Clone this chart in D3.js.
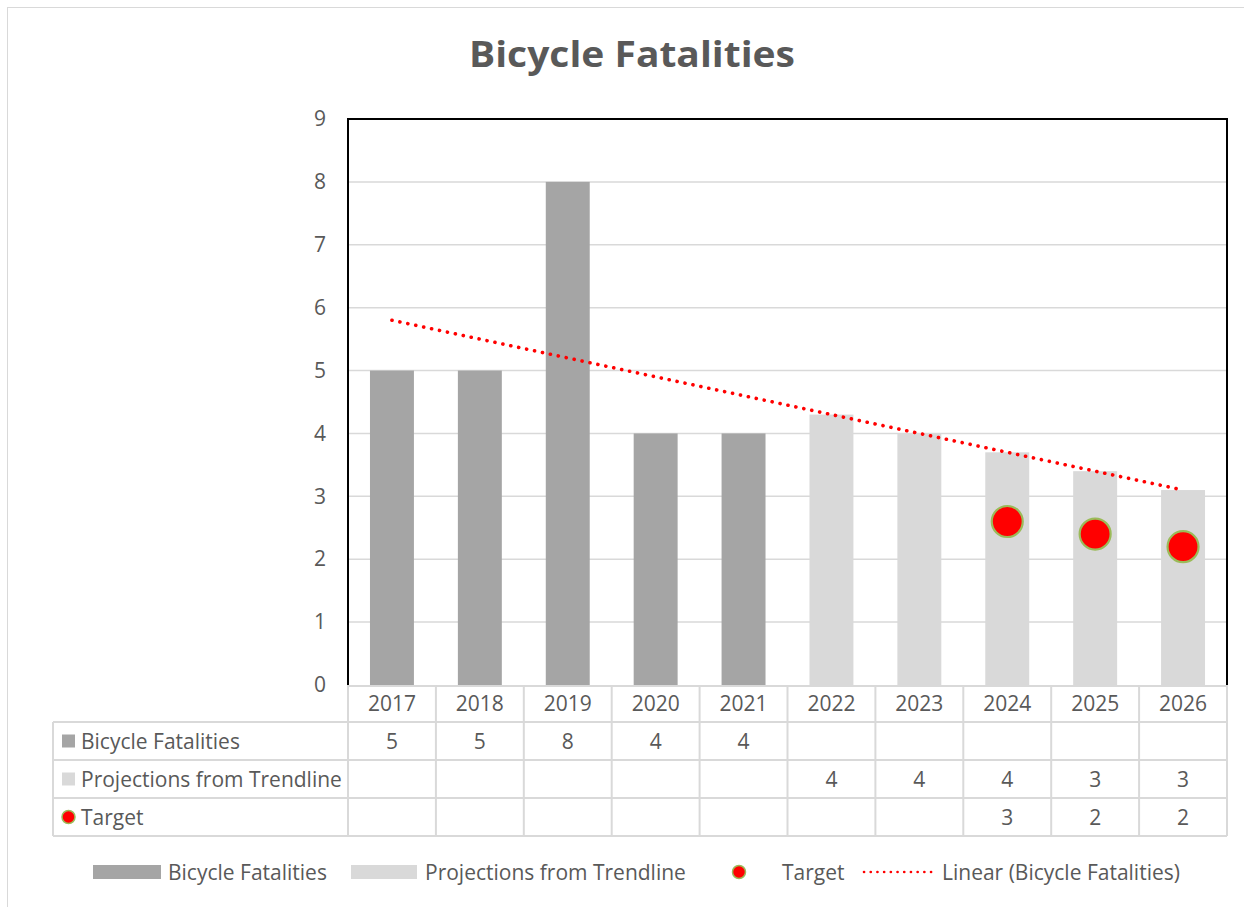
<!DOCTYPE html>
<html><head><meta charset="utf-8">
<script src="https://cdn.jsdelivr.net/npm/d3@7/dist/d3.min.js"></script>
<style>body{margin:0;background:#fff}svg{display:block}text{font-family:"Open Sans",sans-serif;fill:#595959}</style>
</head><body><svg id="c" width="1244" height="907"></svg>
<script>
const years = ["2017","2018","2019","2020","2021","2022","2023","2024","2025","2026"];
const fatalities = [5,5,8,4,4,null,null,null,null,null];
const projections = [null,null,null,null,null,4.3,4.0,3.7,3.4,3.1];
const targets = [null,null,null,null,null,null,null,2.6,2.4,2.2];
const trend = [5.8,5.5,5.2,4.9,4.6,4.3,4.0,3.7,3.4,3.1];
const yTicks = [0,1,2,3,4,5,6,7,8,9];
const seriesNames = ["Bicycle Fatalities","Projections from Trendline","Target"];
const legendNames = ["Bicycle Fatalities","Projections from Trendline","Target","Linear (Bicycle Fatalities)"];

const FONT = "'Open Sans',sans-serif";
const FS = "21px";
const svg = d3.select("#c");
const L = 348, R = 1227, T = 119, B = 685;
const x = d3.scaleBand().domain(years).range([L,R]).paddingInner(0.5).paddingOuter(0.25);
const xc = d => x(d) + x.bandwidth()/2;
const y = d3.scaleLinear().domain([0,9]).range([B,T]);
const dark = "#a5a5a5", light = "#d9d9d9", grid = "#d9d9d9";

// outer chart border
svg.append("rect").attr("x",7.5).attr("y",7.5).attr("width",1260).attr("height",1000)
  .attr("fill","none").attr("stroke","#d9d9d9").attr("stroke-width",1);

// title
svg.append("text").attr("x",632).attr("y",67).attr("text-anchor","middle")
  .attr("textLength",326).attr("lengthAdjust","spacingAndGlyphs")
  .style("font-size","36px").style("font-weight","bold").text("Bicycle Fatalities");

// gridlines
svg.append("g").selectAll("line").data(yTicks.filter(t=>t>0 && t<9)).join("line")
  .attr("x1",L).attr("x2",R).attr("y1",d=>y(d)).attr("y2",d=>y(d))
  .attr("stroke",grid).attr("stroke-width",1.5);

// y axis labels
const yAxis = d3.axisLeft(y).tickValues(yTicks).tickSize(0).tickPadding(22);
const ga = svg.append("g").attr("transform",`translate(${L},0)`).call(yAxis)
  .attr("font-size",null).attr("font-family",null);
ga.select(".domain").remove();
ga.selectAll("text").style("font-size",FS).style("font-family",FONT).attr("fill","#595959");

// bars
svg.append("g").selectAll("rect").data(years.map((yr,i)=>({yr,v:fatalities[i]})).filter(d=>d.v!=null)).join("rect")
  .attr("x",d=>x(d.yr)).attr("width",x.bandwidth()).attr("y",d=>y(d.v)).attr("height",d=>B-y(d.v)).attr("fill",dark);
svg.append("g").selectAll("rect").data(years.map((yr,i)=>({yr,v:projections[i]})).filter(d=>d.v!=null)).join("rect")
  .attr("x",d=>x(d.yr)).attr("width",x.bandwidth()).attr("y",d=>y(d.v)).attr("height",d=>B-y(d.v)).attr("fill",light);

// trendline (linear fit, drawn between first and last category)
const ends = [0, trend.length-1];
const line = d3.line().x(i=>xc(years[i])).y(i=>y(trend[i]));
svg.append("path").attr("d",line(ends))
  .attr("fill","none").attr("stroke","#ff0000").attr("stroke-width",3.6)
  .attr("stroke-linecap","round").attr("stroke-dasharray","0.1 8");

// targets
svg.append("g").selectAll("circle").data(years.map((yr,i)=>({yr,v:targets[i]})).filter(d=>d.v!=null)).join("circle")
  .attr("cx",d=>xc(d.yr)).attr("cy",d=>y(d.v)).attr("r",15.5)
  .attr("fill","#ff0000").attr("stroke","#9bbb59").attr("stroke-width",2.2);

// plot border
svg.append("path").attr("d",`M${L},${B}V${T}H${R}V${B}`).attr("fill","none").attr("stroke","#000").attr("stroke-width",2);

// data table
const rowH = [685,722,760,798,836];
const TL = 53;
const tg = svg.append("g");
const tcol = "#d9d9d9";
tg.append("line").attr("x1",L).attr("x2",R).attr("y1",rowH[0]+1).attr("y2",rowH[0]+1).attr("stroke",tcol).attr("stroke-width",2);
rowH.slice(1).forEach(h=>tg.append("line").attr("x1",TL).attr("x2",R).attr("y1",h).attr("y2",h).attr("stroke",tcol).attr("stroke-width",2));
const vx = years.map(yr=>x(yr)-x.step()*0.25).concat([R]);
vx.forEach(v=>tg.append("line").attr("x1",v).attr("x2",v).attr("y1",rowH[0]).attr("y2",rowH[4]).attr("stroke",tcol).attr("stroke-width",2));
tg.append("line").attr("x1",TL).attr("x2",TL).attr("y1",rowH[1]).attr("y2",rowH[4]).attr("stroke",tcol).attr("stroke-width",2);
tg.selectAll("text.yr").data(years).join("text").attr("class","yr")
  .attr("x",d=>xc(d)).attr("y",(rowH[0]+rowH[1])/2+7.5).attr("text-anchor","middle").style("font-size",FS).text(d=>d);
[fatalities,projections,targets].forEach((arr,ri)=>{
  const cy = (rowH[ri+1]+rowH[ri+2])/2+7.5;
  tg.selectAll(null).data(years.map((yr,i)=>({yr,v:arr[i]})).filter(d=>d.v!=null)).join("text")
    .attr("x",d=>xc(d.yr)).attr("y",cy).attr("text-anchor","middle").style("font-size",FS)
    .text(d=>Math.round(d.v));
  tg.append("text").attr("x",81).attr("y",cy).style("font-size",FS).text(seriesNames[ri]);
  const my = (rowH[ri+1]+rowH[ri+2])/2;
  if(ri<2) tg.append("rect").attr("x",62).attr("y",my-6.5).attr("width",13).attr("height",13).attr("fill",ri==0?dark:light);
  else tg.append("circle").attr("cx",68.5).attr("cy",my).attr("r",6.5).attr("fill","#ff0000").attr("stroke","#9bbb59").attr("stroke-width",1.5);
});

// legend
const lg = svg.append("g");
const ly = 872;
lg.append("rect").attr("x",93).attr("y",ly-7).attr("width",68).attr("height",14).attr("fill",dark);
lg.append("text").attr("x",168).attr("y",ly+7.5).style("font-size",FS).text(legendNames[0]);
lg.append("rect").attr("x",351).attr("y",ly-7).attr("width",66).attr("height",14).attr("fill",light);
lg.append("text").attr("x",425).attr("y",ly+7.5).style("font-size",FS).text(legendNames[1]);
lg.append("circle").attr("cx",739).attr("cy",ly).attr("r",6.5).attr("fill","#ff0000").attr("stroke","#9bbb59").attr("stroke-width",1.5);
lg.append("text").attr("x",782).attr("y",ly+7.5).style("font-size",FS).text(legendNames[2]);
lg.append("line").attr("x1",864).attr("x2",934).attr("y1",ly).attr("y2",ly)
  .attr("stroke","#ff0000").attr("stroke-width",2.6).attr("stroke-linecap","round").attr("stroke-dasharray","0.1 6.6");
lg.append("text").attr("x",942).attr("y",ly+7.5).style("font-size",FS).text(legendNames[3]);
</script></body></html>
